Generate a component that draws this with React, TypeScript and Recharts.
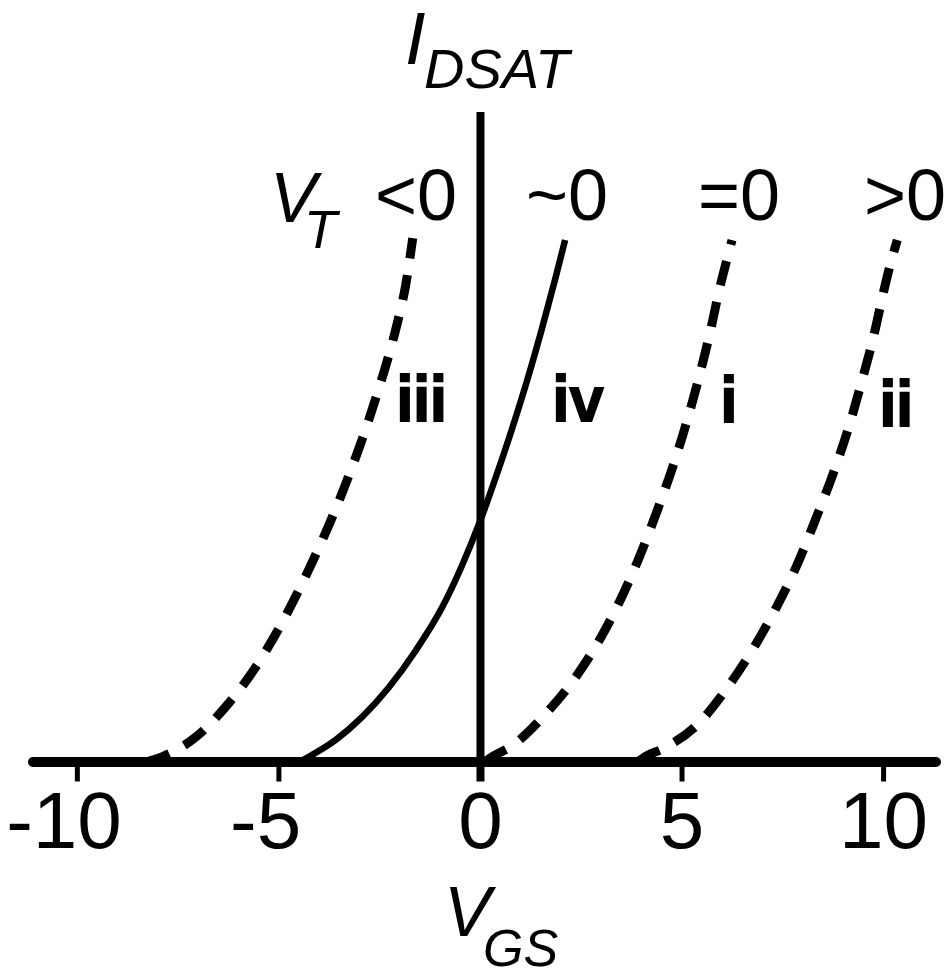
import { LineChart, Line, XAxis, YAxis, ReferenceLine } from 'recharts';

// gate voltage ticks
const vgsTicks = [-10, -5, 0, 5, 10];
const tickMarks = [-10, -5, 5, 10];

// saturation current curves, one per threshold case
const curveIii = [
  { x: -8.3, y: 0 }, { x: -7.9, y: 0.8 }, { x: -7.07, y: 3.8 }, { x: -6.32, y: 8.5 },
  { x: -5.62, y: 14.2 }, { x: -5.05, y: 20 }, { x: -4.5, y: 26.5 }, { x: -4.02, y: 32.8 },
  { x: -3.6, y: 38.8 }, { x: -3.22, y: 44.8 }, { x: -2.88, y: 50.6 }, { x: -2.58, y: 56.3 },
  { x: -2.3, y: 62 }, { x: -2.06, y: 67.6 }, { x: -1.86, y: 73.2 }, { x: -1.68, y: 80.6 },
];
const curveIv = [
  { x: -4.5, y: 0 }, { x: -4.26, y: 0.8 }, { x: -3.59, y: 3.4 }, { x: -2.94, y: 6.9 },
  { x: -2.27, y: 11.5 }, { x: -1.6, y: 17.2 }, { x: -0.95, y: 23.8 }, { x: -0.46, y: 30.2 },
  { x: 0, y: 37.2 }, { x: 0.38, y: 43.8 }, { x: 0.78, y: 51.2 }, { x: 1.2, y: 59.6 },
  { x: 1.53, y: 66.8 }, { x: 1.85, y: 74.2 }, { x: 2.1, y: 80.3 },
];
const curveI = [
  { x: 0.1, y: 0 }, { x: 0.29, y: 0.8 }, { x: 0.76, y: 2.4 }, { x: 1.63, y: 7.5 },
  { x: 2.4, y: 13.4 }, { x: 2.99, y: 19.2 }, { x: 3.49, y: 25.2 }, { x: 3.96, y: 31.8 },
  { x: 4.38, y: 38.6 }, { x: 4.78, y: 45.6 }, { x: 5.12, y: 52.4 }, { x: 5.43, y: 59.4 },
  { x: 5.7, y: 66.2 }, { x: 5.93, y: 72.8 }, { x: 6.1, y: 77 }, { x: 6.24, y: 80.3 },
];
const curveIi = [
  { x: 3.9, y: 0 }, { x: 4.11, y: 0.9 }, { x: 4.51, y: 2 }, { x: 5.42, y: 6 },
  { x: 6.12, y: 11.4 }, { x: 6.79, y: 17.7 }, { x: 7.34, y: 23.8 }, { x: 7.83, y: 30 },
  { x: 8.31, y: 37.3 }, { x: 8.75, y: 44.4 }, { x: 9.13, y: 51.4 }, { x: 9.46, y: 58.6 },
  { x: 9.75, y: 65.4 }, { x: 9.98, y: 71.8 }, { x: 10.16, y: 76.4 }, { x: 10.34, y: 80.3 },
];

const SANS = "'Liberation Sans', Arial, Helvetica, sans-serif";
const NARROW = "'Liberation Sans Narrow', 'DejaVu Sans Condensed', 'Liberation Sans', sans-serif";
const TICK_FS = 80;

// numbers centred on the tick by their digits, minus sign hanging to the left
const VgsTick = (props: any) => {
  const { x, y, payload } = props;
  const v = payload.value as number;
  const half = (String(Math.abs(v)).length * 0.556 * TICK_FS) / 2;
  return (
    <text
      x={v < 0 ? x + half : x}
      y={y + 66}
      textAnchor={v < 0 ? 'end' : 'middle'}
      fill="#000"
      fontFamily={SANS}
      fontSize={TICK_FS}
    >
      {String(v)}
    </text>
  );
};

const dashed = { stroke: '#000', strokeWidth: 9, strokeDasharray: '25 17', fill: 'none' };

export default function App() {
  return (
    <div style={{ position: 'absolute', left: 0, top: 0, width: 946, height: 975, background: '#fff' }}>
      <LineChart
        width={946}
        height={975}
        margin={{ top: 112, right: 10, bottom: 133.5, left: 33 }}
      >
        <XAxis
          type="number"
          dataKey="x"
          domain={[-11.1, 11.3]}
          ticks={vgsTicks}
          allowDataOverflow
          axisLine={false}
          tickLine={false}
          tickSize={0}
          tickMargin={0}
          height={60}
          interval={0}
          tick={<VgsTick />}
        />
        <YAxis type="number" dataKey="y" domain={[-3, 100]} hide allowDataOverflow />

        <ReferenceLine y={0} stroke="#000" strokeWidth={10} strokeLinecap="round" />
        <ReferenceLine x={0} stroke="#000" strokeWidth={8} />
        {tickMarks.map((t) => (
          <ReferenceLine
            key={t}
            segment={[{ x: t, y: 0 }, { x: t, y: -3 }]}
            stroke="#000"
            strokeWidth={5}
          />
        ))}

        <Line data={curveIii} dataKey="y" type="monotone" dot={false} isAnimationActive={false} {...dashed} />
        <Line data={curveIv} dataKey="y" type="monotone" dot={false} isAnimationActive={false} stroke="#000" strokeWidth={6.5} />
        <Line data={curveI} dataKey="y" type="monotone" dot={false} isAnimationActive={false} {...dashed} />
        <Line data={curveIi} dataKey="y" type="monotone" dot={false} isAnimationActive={false} {...dashed} />

        <g fill="#000" fontFamily={SANS}>
          {/* I_DSAT */}
          <text x={405} y={64} fontSize={74} fontStyle="italic">I</text>
          <text x={424} y={88} fontSize={56} fontStyle="italic">DSAT</text>
          {/* V_T row */}
          <text x={270} y={222} fontSize={70} fontStyle="italic">V</text>
          <text x={304} y={248} fontSize={54} fontStyle="italic">T</text>
          <text x={375} y={220} fontSize={72}>&lt;0</text>
          <text x={526} y={220} fontSize={72}>~0</text>
          <text x={698} y={220} fontSize={72}>=0</text>
          <text x={864} y={220} fontSize={72}>&gt;0</text>
          {/* V_GS */}
          <text x={444} y={936} fontSize={70} fontStyle="italic">V</text>
          <text x={483} y={966} fontSize={52} fontStyle="italic">GS</text>
        </g>
        <g fill="#000" fontFamily={NARROW} fontWeight="bold" fontSize={64}>
          <text x={395} y={422} letterSpacing={-3}>iii</text>
          <text x={551} y={422} letterSpacing={-3}>iv</text>
          <text x={719} y={423}>i</text>
          <text x={878} y={427} letterSpacing={-3}>ii</text>
        </g>
      </LineChart>
    </div>
  );
}
